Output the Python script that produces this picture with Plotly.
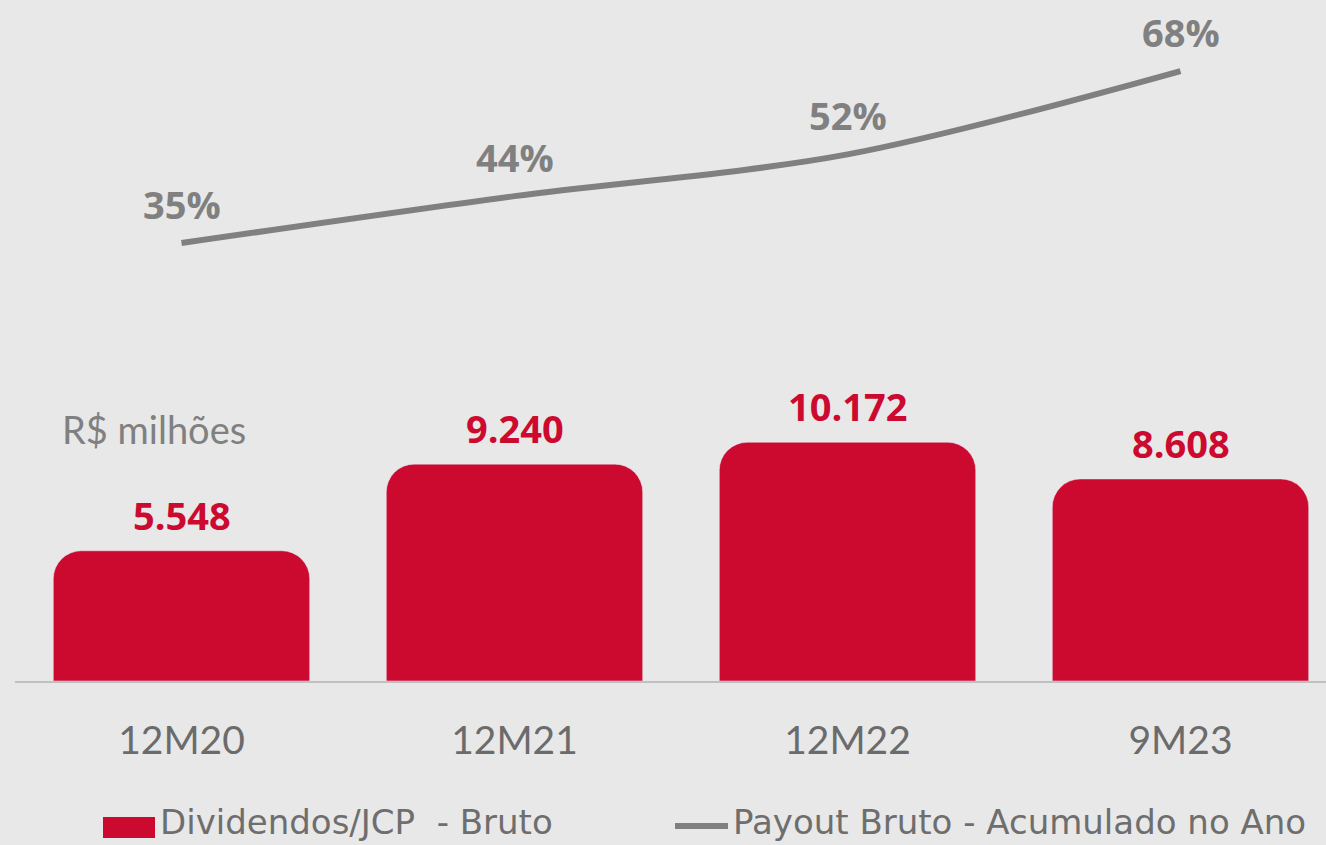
import plotly.graph_objects as go

categories = ["12M20", "12M21", "12M22", "9M23"]
dividendos = [5548, 9240, 10172, 8608]
dividendos_labels = ["5.548", "9.240", "10.172", "8.608"]
payout = [35, 44, 52, 68]
payout_labels = ["35%", "44%", "52%", "68%"]
legend_names = ["Dividendos/JCP\u00a0 - Bruto", "Payout Bruto - Acumulado no Ano"]

RED = "#cc0a2f"
GRAY_LINE = "#808080"
BG = "#e8e8e8"

W, H = 1326, 845
ML, MB = 15, 164
PW, PH = W - ML, H - MB


def px_x(p):
    return (p - ML) / PW


def px_y(p):
    return (PH - p) / PH


fig = go.Figure()
fig.add_trace(go.Bar(
    x=categories, y=dividendos, name=legend_names[0],
    marker=dict(color=RED, cornerradius=28), width=0.77,
    yaxis="y", showlegend=False,
))
fig.add_trace(go.Scatter(
    x=categories, y=payout, name=legend_names[1],
    mode="lines", line=dict(color=GRAY_LINE, width=6, shape="spline", smoothing=0.9),
    yaxis="y2", showlegend=False,
))

annotations = []
for c, v, t in zip(categories, dividendos, dividendos_labels):
    annotations.append(dict(x=c, y=v, xref="x", yref="y", text="<b>%s</b>" % t,
                            showarrow=False, yanchor="bottom", yshift=8,
                            font=dict(family="Open Sans", size=38, color=RED)))
for c, v, t in zip(categories, payout, payout_labels):
    annotations.append(dict(x=c, y=v, xref="x", yref="y2", text="<b>%s</b>" % t,
                            showarrow=False, yanchor="middle", yshift=39,
                            font=dict(family="Open Sans", size=38, color=GRAY_LINE)))
annotations.append(dict(x=px_x(60), y=px_y(429), xref="paper", yref="paper",
                        text="R$ milhões", showarrow=False, xanchor="left", yanchor="middle",
                        font=dict(family="Lato", size=38, color="#808080")))

# legend (drawn manually to match the reference symbol sizes)
annotations.append(dict(x=px_x(158), y=px_y(822), xref="paper", yref="paper",
                        text=legend_names[0], showarrow=False, xanchor="left", yanchor="middle",
                        font=dict(family="DejaVu Sans", size=34, color="#6e6e6e")))
annotations.append(dict(x=px_x(731), y=px_y(822), xref="paper", yref="paper",
                        text=legend_names[1], showarrow=False, xanchor="left", yanchor="middle",
                        font=dict(family="DejaVu Sans", size=34, color="#6e6e6e")))
shapes = [
    dict(type="rect", xref="paper", yref="paper", x0=px_x(103), x1=px_x(155),
         y0=px_y(838), y1=px_y(817), fillcolor=RED, line=dict(width=0), layer="above"),
    dict(type="line", xref="paper", yref="paper", x0=px_x(675), x1=px_x(728),
         y0=px_y(826), y1=px_y(826), line=dict(color=GRAY_LINE, width=6), layer="above"),
]

fig.update_layout(
    width=W, height=H,
    margin=dict(l=ML, r=0, t=0, b=MB),
    paper_bgcolor=BG, plot_bgcolor=BG,
    showlegend=False,
    xaxis=dict(range=[-0.5, -0.5 + PW / 333.0], showline=True, linecolor="#c0c0c0", linewidth=2,
               showgrid=False, zeroline=False, ticks="", ticklabelstandoff=24,
               tickfont=dict(family="Lato", size=39, color="#6b6b6b")),
    yaxis=dict(range=[0, PH / 0.02347], visible=False, showgrid=False, zeroline=False),
    yaxis2=dict(range=[-49.03, -49.03 + PH / 5.2121], overlaying="y", visible=False,
                showgrid=False, zeroline=False),
    annotations=annotations,
    shapes=shapes,
)

fig.write_html("out.html", config={"displayModeBar": False},
               post_script="document.body.style.margin='0';document.body.style.overflow='hidden';")
